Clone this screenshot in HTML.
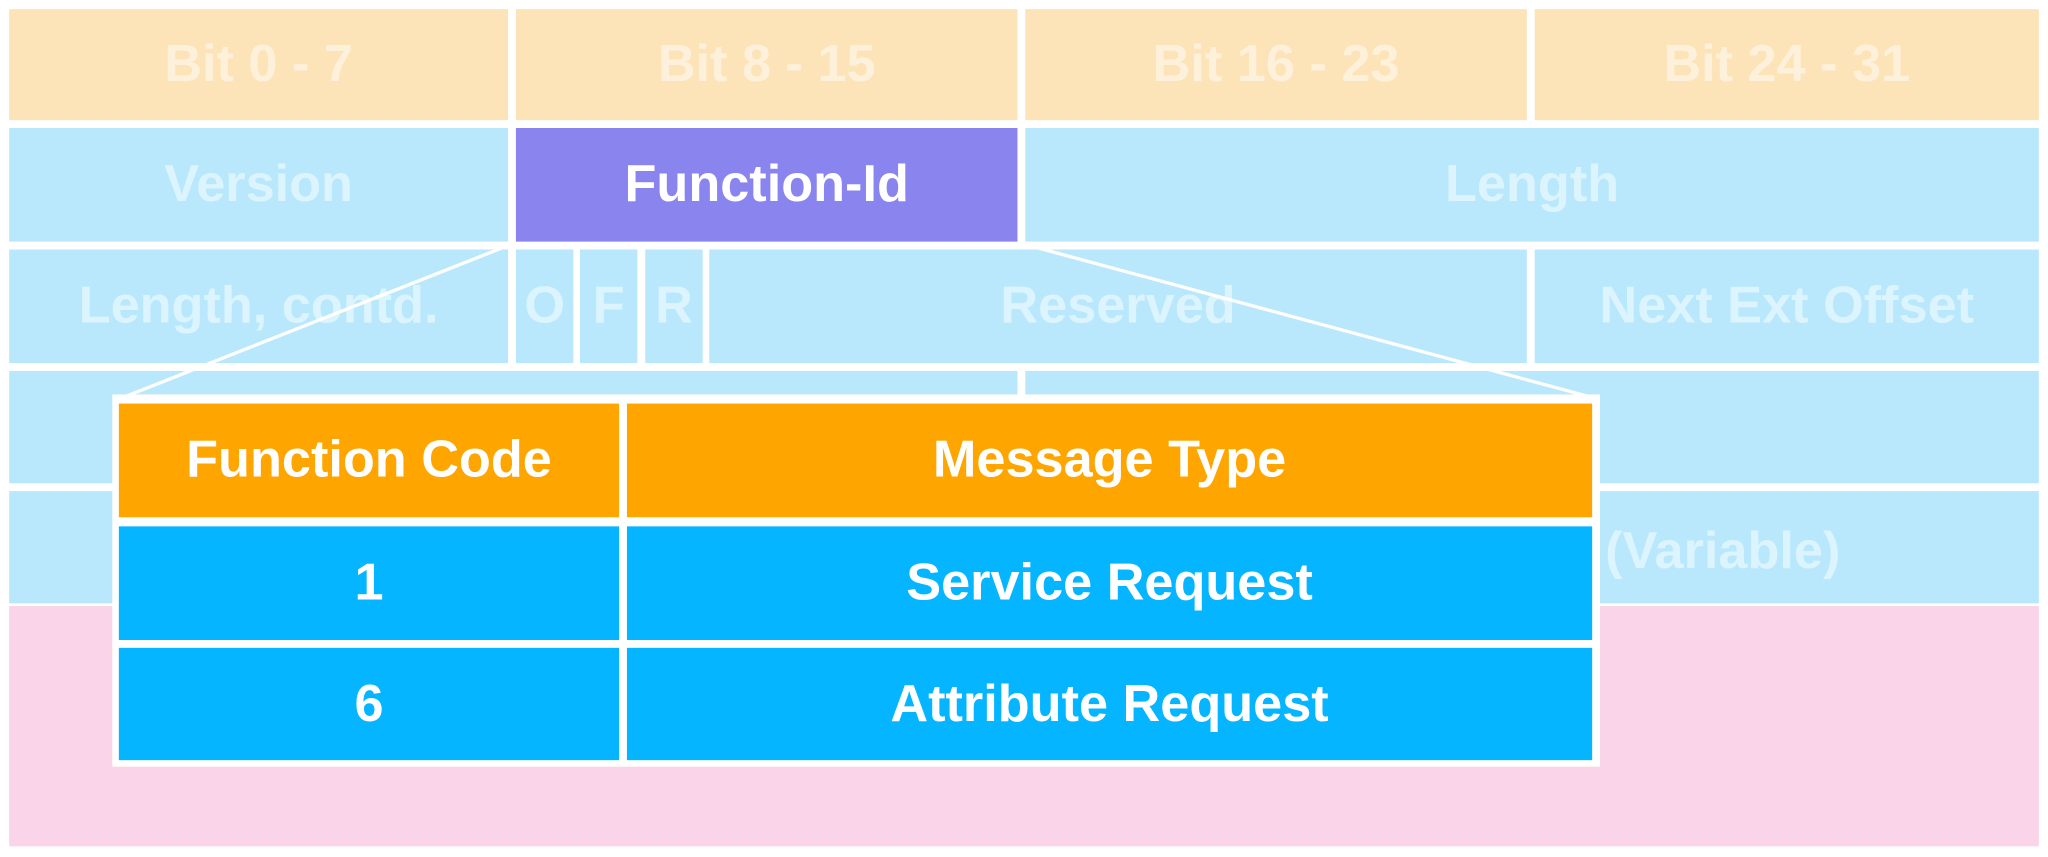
<!DOCTYPE html>
<html><head><style>
html,body{margin:0;padding:0;background:#fff;width:2048px;height:857px;overflow:hidden}
#w{position:absolute;left:0;top:0;width:1568px;height:656px;transform:scale(1.30612);transform-origin:0 0}
.c{position:absolute;display:flex;align-items:center;justify-content:center;font-family:"Liberation Sans",sans-serif;font-weight:bold;font-size:40px;color:rgba(255,255,255,0.5);letter-spacing:0}
.o{background:#FDE3B8}.b{background:#B9E8FD}
.w{color:#fff}
</style></head><body><div id="w">
<div class="c o" style="left:7px;top:7px;width:382px;height:85px">Bit 0 - 7</div>
<div class="c o" style="left:395px;top:7px;width:384px;height:85px">Bit 8 - 15</div>
<div class="c o" style="left:785px;top:7px;width:384px;height:85px">Bit 16 - 23</div>
<div class="c o" style="left:1175px;top:7px;width:386px;height:85px">Bit 24 - 31</div>

<div class="c b" style="left:7px;top:98px;width:382px;height:87px">Version</div>
<div class="c w" style="left:395px;top:98px;width:384px;height:87px;background:#8A84EE">Function-Id</div>
<div class="c b" style="left:785px;top:98px;width:776px;height:87px">Length</div>

<div class="c b" style="left:7px;top:191px;width:382px;height:87px">Length, contd.</div>
<div class="c b" style="left:395px;top:191px;width:44px;height:87px">O</div>
<div class="c b" style="left:444px;top:191px;width:44px;height:87px">F</div>
<div class="c b" style="left:494px;top:191px;width:44px;height:87px">R</div>
<div class="c b" style="left:543px;top:191px;width:626px;height:87px">Reserved</div>
<div class="c b" style="left:1175px;top:191px;width:386px;height:87px">Next Ext Offset</div>

<div class="c b" style="left:7px;top:284px;width:772px;height:86px"></div>
<div class="c b" style="left:785px;top:284px;width:776px;height:86px"></div>

<div class="c b" style="left:7px;top:376px;width:1554px;height:86px"></div>
<div class="c" style="left:1180px;top:376px;width:278px;height:92px">(Variable)</div>
<div class="c" style="left:7px;top:464px;width:1554px;height:184px;background:#FAD5E9"></div>

<svg style="position:absolute;left:0;top:0" width="1568" height="656">
<line x1="389" y1="188" x2="95" y2="304" stroke="#fff" stroke-width="2.5"/>
<line x1="788" y1="188" x2="1218" y2="304" stroke="#fff" stroke-width="2.5"/>
</svg>

<div style="position:absolute;left:86px;top:302px;width:1139px;height:285px;background:#fff"></div>
<div class="c w" style="left:91px;top:309px;width:383px;height:87px;background:#FFA500">Function Code</div>
<div class="c w" style="left:480px;top:309px;width:739px;height:87px;background:#FFA500">Message Type</div>
<div class="c w" style="left:91px;top:403px;width:383px;height:87px;background:#05B5FF">1</div>
<div class="c w" style="left:480px;top:403px;width:739px;height:87px;background:#05B5FF">Service Request</div>
<div class="c w" style="left:91px;top:496px;width:383px;height:86px;background:#05B5FF">6</div>
<div class="c w" style="left:480px;top:496px;width:739px;height:86px;background:#05B5FF">Attribute Request</div>
</div></body></html>
